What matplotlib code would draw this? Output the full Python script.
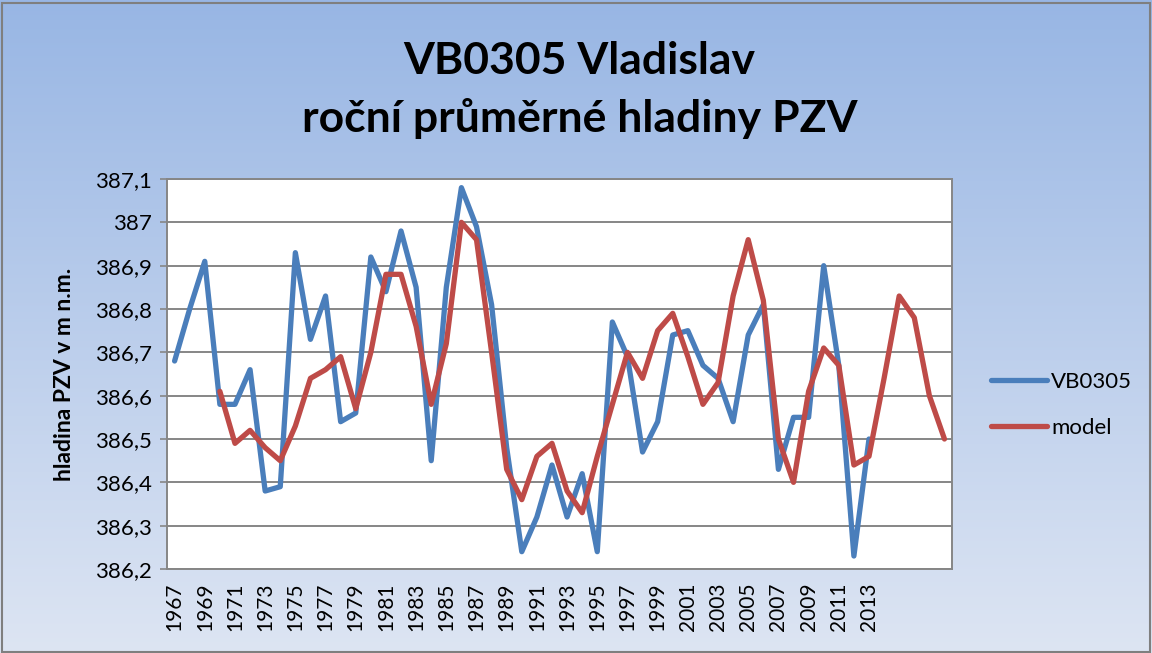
import numpy as np
import matplotlib
matplotlib.use("Agg")
import matplotlib.pyplot as plt
from matplotlib.ticker import FuncFormatter, MultipleLocator
from matplotlib.patches import Rectangle

plt.rcParams["font.family"] = ["Lato", "DejaVu Sans"]

years = list(range(1967, 2019))

# measured annual mean levels, 1967-2013
vb0305 = [386.68, 386.80, 386.91, 386.58, 386.58, 386.66, 386.38, 386.39,
          386.93, 386.73, 386.83, 386.54, 386.56, 386.92, 386.84, 386.98,
          386.85, 386.45, 386.85, 387.08, 386.99, 386.81, 386.48, 386.24,
          386.32, 386.44, 386.32, 386.42, 386.24, 386.77, 386.69, 386.47,
          386.54, 386.74, 386.75, 386.67, 386.64, 386.54, 386.74, 386.81,
          386.43, 386.55, 386.55, 386.90, 386.67, 386.23, 386.50]

# model, 1970-2018
model = [386.61, 386.49, 386.52, 386.48, 386.45, 386.53, 386.64, 386.66,
         386.69, 386.57, 386.70, 386.88, 386.88, 386.76, 386.58, 386.72,
         387.00, 386.96, 386.70, 386.43, 386.36, 386.46, 386.49, 386.38,
         386.33, 386.46, 386.58, 386.70, 386.64, 386.75, 386.79, 386.69,
         386.58, 386.63, 386.83, 386.96, 386.82, 386.50, 386.40, 386.61,
         386.71, 386.67, 386.44, 386.46, 386.64, 386.83, 386.78, 386.60,
         386.50]

# category labels: every second year, axis labels stop at 2013
tick_labels = [str(y) if (y - 1967) % 2 == 0 and y <= 2013 else "" for y in years]

n = len(years)
blue = np.full(n, np.nan)
blue[:len(vb0305)] = vb0305
red = np.full(n, np.nan)
red[years.index(1970):] = model
x = np.arange(n)

fig = plt.figure(figsize=(11.52, 6.53), dpi=100)

# gradient background
bg = fig.add_axes([0, 0, 1, 1], zorder=-10)
top = np.array([152, 182, 228]) / 255
bot = np.array([221, 229, 243]) / 255
t = np.linspace(0, 1, 256)[:, None]
grad = top * (1 - t[..., None]) + bot * t[..., None]
grad = np.repeat(grad, 4, axis=1)
bg.imshow(grad, aspect="auto", extent=(0, 1, 0, 1), origin="upper")
bg.add_patch(Rectangle((0.002, 0.002), 0.996, 0.994, fill=False,
                       edgecolor="#7f7f7f", linewidth=1.5))
bg.set_axis_off()

ax = fig.add_axes([0.145, 0.1286, 0.6814, 0.5973])
ax.set_facecolor("white")
ax.plot(x, blue, color="#4A7EBB", linewidth=3.8, label="VB0305",
        solid_joinstyle="round", solid_capstyle="round")
ax.plot(x, red, color="#BE4B48", linewidth=3.8, label="model",
        solid_joinstyle="round", solid_capstyle="round")

ax.set_xlim(-0.5, n - 0.5)
ax.set_ylim(386.2, 387.1)
ax.yaxis.set_major_locator(MultipleLocator(0.1))


def fmt(v, pos):
    s = f"{v:.1f}"
    if s.endswith(".0"):
        s = s[:-2]
    return s.replace(".", ",")


ax.yaxis.set_major_formatter(FuncFormatter(fmt))
ax.grid(axis="y", color="#868686", linewidth=1.4)
ax.set_axisbelow(True)
ax.set_xticks(x)
ax.set_xticklabels(tick_labels, rotation=90, fontsize=15)
ax.tick_params(axis="x", length=0, pad=10)
ax.tick_params(axis="y", labelsize=16, length=5, color="#868686", width=1.2, pad=6)
for sp in ax.spines.values():
    sp.set_color("#868686")
    sp.set_linewidth(1.4)

ax.set_ylabel("hladina PZV v m n.m.", fontsize=16.5, fontweight="bold", labelpad=14)

fig.text(0.503, 0.862, "VB0305 Vladislav\nroční průměrné hladiny PZV",
         ha="center", va="center", fontsize=32, fontweight="bold",
         linespacing=1.5)

ax.legend(loc="center left", bbox_to_anchor=(0.843, 0.38),
          bbox_transform=fig.transFigure, frameon=False, fontsize=16,
          handlelength=2.5, handletextpad=0.2, labelspacing=1.2)

fig.savefig("out.png", dpi=100)
